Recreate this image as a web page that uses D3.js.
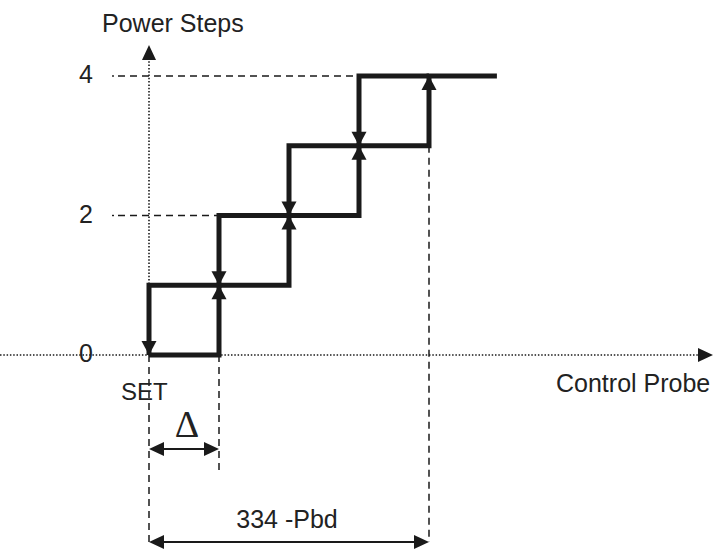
<!DOCTYPE html>
<html>
<head>
<meta charset="utf-8">
<script src="https://cdn.jsdelivr.net/npm/d3@7"></script>
<style>
  html, body { margin: 0; padding: 0; background: #fff; }
  text { font-family: Arial, "Liberation Sans", sans-serif; fill: #222; }
</style>
</head>
<body>
<div id="chart"></div>
<script>
// power levels and the threshold offsets (in units of Δ from SET)
const levels = [0, 1, 2, 3, 4];
const levelLabels = [0, 2, 4];
// rising edges: at threshold x the output goes from level-1 up to level
const riseX = [1, 2, 3, 4];
// falling edges: at threshold x the output drops from level+1 down to level
const fallX = [0, 1, 2, 3];
const lastX = 4.97;
const dashedLevels = [{ level: 4, to: 3 }, { level: 2, to: 1 }];
const dropLines = [{ x: 0, from: 0, bottom: 542 }, { x: 1, from: 0, bottom: 472 }, { x: 4, from: 3, bottom: 542 }];

const width = 713, height = 551;
const ink = '#1a1a1a';

const svg = d3.select('#chart').append('svg')
  .attr('width', width)
  .attr('height', height);

const x = d3.scaleLinear().domain([0, 4]).range([149, 429]);
const y = d3.scaleLinear().domain([0, 4]).range([355, 76]);

function tri(tipX, tipY, dir, len, half) {
  // dir: 'up' | 'down' | 'left' | 'right'
  if (dir === 'up') return `M${tipX},${tipY} L${tipX - half},${tipY + len} L${tipX + half},${tipY + len} Z`;
  if (dir === 'down') return `M${tipX},${tipY} L${tipX - half},${tipY - len} L${tipX + half},${tipY - len} Z`;
  if (dir === 'left') return `M${tipX},${tipY} L${tipX + len},${tipY - half} L${tipX + len},${tipY + half} Z`;
  return `M${tipX},${tipY} L${tipX - len},${tipY - half} L${tipX - len},${tipY + half} Z`;
}

// dotted axes
svg.append('line')
  .attr('x1', 0).attr('x2', 700)
  .attr('y1', y(0)).attr('y2', y(0))
  .attr('stroke', ink).attr('stroke-width', 1.6)
  .attr('stroke-dasharray', '1.5,1.8');
svg.append('path').attr('d', tri(713, y(0), 'right', 15, 7)).attr('fill', ink);

svg.append('line')
  .attr('x1', x(0)).attr('x2', x(0))
  .attr('y1', 58).attr('y2', y(0))
  .attr('stroke', ink).attr('stroke-width', 1.6)
  .attr('stroke-dasharray', '1.5,1.8');
svg.append('path').attr('d', tri(x(0), 45, 'up', 15, 7)).attr('fill', ink);

// dashed reference lines to the level labels (a dot, then dashes)
svg.selectAll('.ref')
  .data(dashedLevels)
  .enter().append('line')
  .attr('class', 'ref')
  .attr('x1', 118).attr('x2', d => x(d.to))
  .attr('y1', d => y(d.level)).attr('y2', d => y(d.level))
  .attr('stroke', ink).attr('stroke-width', 1.4)
  .attr('stroke-dasharray', '7,5');
svg.selectAll('.refdot')
  .data(dashedLevels)
  .enter().append('rect')
  .attr('class', 'refdot')
  .attr('x', 112).attr('y', d => y(d.level) - 0.7)
  .attr('width', 2).attr('height', 1.4)
  .attr('fill', ink);

// dashed drop lines below the thresholds
svg.selectAll('.drop')
  .data(dropLines)
  .enter().append('line')
  .attr('class', 'drop')
  .attr('x1', d => x(d.x)).attr('x2', d => x(d.x))
  .attr('y1', d => y(d.from)).attr('y2', d => d.bottom)
  .attr('stroke', ink).attr('stroke-width', 1.5)
  .attr('stroke-dasharray', '7,5');

// hysteresis staircase
const upPath = [[0, 0]];
riseX.forEach((r, i) => { upPath.push([r, levels[i]]); upPath.push([r, levels[i + 1]]); });
upPath.push([lastX, 4]);
const downPath = [[riseX[riseX.length - 1], 4]];
fallX.slice().reverse().forEach(f => {
  const lv = f + 1;
  downPath.push([f, lv]);
  downPath.push([f, lv - 1]);
  if (f > 0) downPath.push([f - 1, lv - 1]);
});

const line = d3.line().x(d => x(d[0])).y(d => y(d[1]));
[upPath, downPath].forEach(p => {
  svg.append('path')
    .attr('d', line(p))
    .attr('fill', 'none')
    .attr('stroke', ink)
    .attr('stroke-width', 5)
    .attr('stroke-linejoin', 'miter')
    .attr('stroke-linecap', 'butt');
});

// arrowheads on the staircase
svg.selectAll('.up')
  .data(riseX)
  .enter().append('path')
  .attr('class', 'up')
  .attr('d', (d, i) => tri(x(d), y(levels[i + 1]), 'up', 14, 7.5))
  .attr('fill', ink);
svg.selectAll('.down')
  .data(fallX)
  .enter().append('path')
  .attr('class', 'down')
  .attr('d', (d, i) => tri(x(d), y(levels[i]), 'down', 14, 7.5))
  .attr('fill', ink);

// dimension arrows
const dims = [{ from: 0, to: 1, y: 449 }, { from: 0, to: 4, y: 542 }];
dims.forEach(d => {
  svg.append('line')
    .attr('x1', x(d.from) + 10).attr('x2', x(d.to) - 10)
    .attr('y1', d.y).attr('y2', d.y)
    .attr('stroke', ink).attr('stroke-width', 2);
  svg.append('path').attr('d', tri(x(d.from), d.y, 'left', 15, 7)).attr('fill', ink);
  svg.append('path').attr('d', tri(x(d.to), d.y, 'right', 15, 7)).attr('fill', ink);
});

svg.append('text')
  .attr('x', (x(0) + x(1)) / 2 + 3).attr('y', 437)
  .attr('text-anchor', 'middle')
  .style('font-family', '"Liberation Serif", "DejaVu Serif", serif')
  .style('font-size', '38px')
  .text('Δ');

svg.append('text')
  .attr('x', (x(0) + x(4)) / 2 - 2).attr('y', 528)
  .attr('text-anchor', 'middle')
  .style('font-size', '25px')
  .text('334 -Pbd');

// axis labels
svg.append('text').attr('x', 102).attr('y', 32).style('font-size', '25px').text('Power Steps');
svg.append('text').attr('x', 556).attr('y', 392).style('font-size', '25px').text('Control Probe');
svg.append('text').attr('x', 121).attr('y', 400).style('font-size', '24px').text('SET');

svg.selectAll('.lvl')
  .data(levelLabels)
  .enter().append('text')
  .attr('class', 'lvl')
  .attr('x', 79)
  .attr('y', d => y(d) + 7)
  .style('font-size', '25px')
  .text(d => d);
</script>
</body>
</html>
